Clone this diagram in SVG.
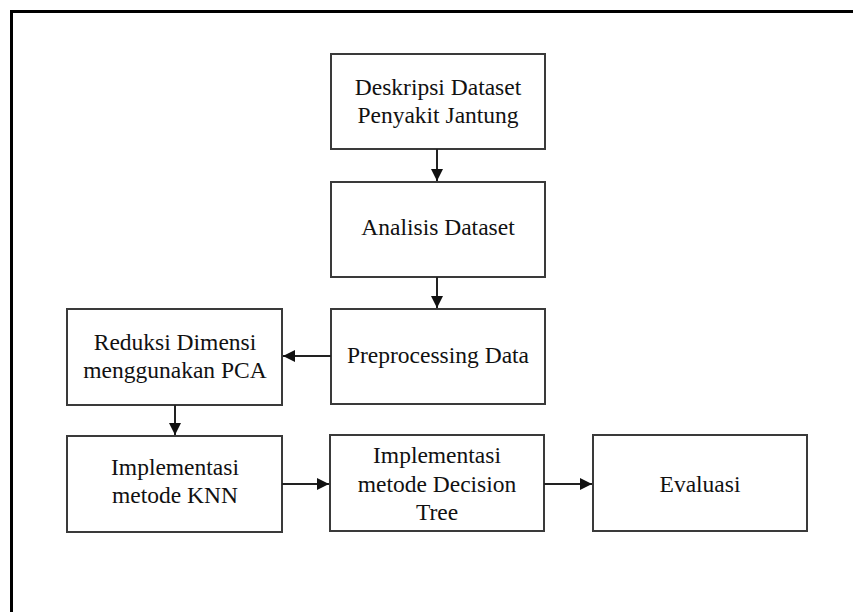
<svg xmlns="http://www.w3.org/2000/svg" width="853" height="612" viewBox="0 0 853 612">
<style>
.box{fill:#fff;stroke:#3a3a3a;stroke-width:2}
.t{font-family:"Liberation Serif","Times New Roman",serif;font-size:23.5px;fill:#111;text-anchor:middle}
.c{stroke:#222;stroke-width:2;fill:none;marker-end:url(#ah)}
</style>
<defs>
<marker id="ah" markerWidth="12" markerHeight="12" refX="12" refY="6" orient="auto" markerUnits="userSpaceOnUse">
<path d="M0,0 L12,6 L0,12 Z" fill="#111"/>
</marker>
</defs>
<rect width="853" height="612" fill="#fff"/>
<path d="M11.5,612 V11.5 H853" fill="none" stroke="#000" stroke-width="3"/>
<g id="n1"><rect class="box" x="331" y="54" width="214" height="95"/><text class="t" x="438" y="95">Deskripsi Dataset</text><text class="t" x="438" y="123">Penyakit Jantung</text></g>
<g id="n2"><rect class="box" x="331" y="182" width="214" height="95"/><text class="t" x="438" y="235">Analisis Dataset</text></g>
<g id="n3"><rect class="box" x="331" y="309" width="214" height="95"/><text class="t" x="438" y="363">Preprocessing Data</text></g>
<g id="n4"><rect class="box" x="67" y="309" width="215" height="96"/><text class="t" x="175" y="350">Reduksi Dimensi</text><text class="t" x="175" y="378">menggunakan PCA</text></g>
<g id="n5"><rect class="box" x="67" y="436" width="215" height="96"/><text class="t" x="175" y="475">Implementasi</text><text class="t" x="175" y="503">metode KNN</text></g>
<g id="n6"><rect class="box" x="330" y="435" width="214" height="96"/><text class="t" x="437" y="463">Implementasi</text><text class="t" x="437" y="492">metode Decision</text><text class="t" x="437" y="520">Tree</text></g>
<g id="n7"><rect class="box" x="593" y="435" width="214" height="96"/><text class="t" x="700" y="492">Evaluasi</text></g>
<g id="connectors">
<line class="c" x1="437" y1="149" x2="437" y2="181"/>
<line class="c" x1="437" y1="277" x2="437" y2="308"/>
<line class="c" x1="331" y1="356" x2="283" y2="356"/>
<line class="c" x1="175" y1="405" x2="175" y2="435"/>
<line class="c" x1="282" y1="484" x2="329" y2="484"/>
<line class="c" x1="544" y1="484" x2="592" y2="484"/>
</g>
</svg>
